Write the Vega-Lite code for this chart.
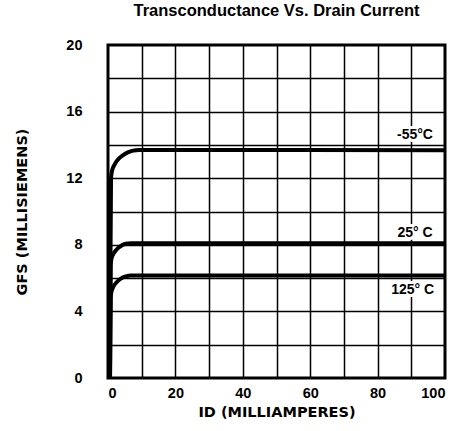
{
  "$schema": "https://vega.github.io/schema/vega-lite/v6.json",
  "width": 337,
  "height": 333,
  "autosize": {"type": "none"},
  "padding": {"left": 108, "top": 45, "right": 16, "bottom": 53},
  "background": "white",
  "title": {"text": "Transconductance Vs. Drain Current", "font": "Liberation Sans", "fontSize": 16.5, "fontWeight": "bold", "color": "black", "anchor": "middle", "offset": 18},
  "config": {
    "view": {"stroke": "black", "strokeWidth": 3},
    "axis": {"gridColor": "black", "gridOpacity": 1, "gridWidth": 1.5, "domain": false, "ticks": false, "labelFont": "Liberation Sans", "labelFontWeight": "bold", "labelFontSize": 14.5, "labelColor": "black", "titleFont": "DejaVu Sans", "titleFontWeight": "bold", "titleColor": "black", "titleFontSize": 14.5}
  },
  "resolve": {"axis": {"x": "independent", "y": "independent"}},
  "datasets": {
    "curves": [
      {"id": 0.6, "gfs": 0, "temp": "-55"},
      {"id": 0.7, "gfs": 6, "temp": "-55"},
      {"id": 0.9, "gfs": 12.0, "temp": "-55"},
      {"id": 1.19, "gfs": 12.44, "temp": "-55"},
      {"id": 2.03, "gfs": 12.85, "temp": "-55"},
      {"id": 3.36, "gfs": 13.2, "temp": "-55"},
      {"id": 5.1, "gfs": 13.47, "temp": "-55"},
      {"id": 7.13, "gfs": 13.64, "temp": "-55"},
      {"id": 9.3, "gfs": 13.7, "temp": "-55"},
      {"id": 100, "gfs": 13.68, "temp": "-55"},
      {"id": 0.6, "gfs": 0, "temp": "25"},
      {"id": 0.7, "gfs": 4, "temp": "25"},
      {"id": 0.8, "gfs": 6.8, "temp": "25"},
      {"id": 1.0, "gfs": 7.14, "temp": "25"},
      {"id": 1.6, "gfs": 7.45, "temp": "25"},
      {"id": 2.56, "gfs": 7.72, "temp": "25"},
      {"id": 3.8, "gfs": 7.93, "temp": "25"},
      {"id": 5.25, "gfs": 8.06, "temp": "25"},
      {"id": 6.8, "gfs": 8.1, "temp": "25"},
      {"id": 100, "gfs": 8.1, "temp": "25"},
      {"id": 0.6, "gfs": 0, "temp": "125"},
      {"id": 0.7, "gfs": 3, "temp": "125"},
      {"id": 0.8, "gfs": 4.8, "temp": "125"},
      {"id": 1.0, "gfs": 5.15, "temp": "125"},
      {"id": 1.6, "gfs": 5.48, "temp": "125"},
      {"id": 2.56, "gfs": 5.75, "temp": "125"},
      {"id": 3.8, "gfs": 5.97, "temp": "125"},
      {"id": 5.25, "gfs": 6.1, "temp": "125"},
      {"id": 6.8, "gfs": 6.15, "temp": "125"},
      {"id": 100, "gfs": 6.15, "temp": "125"}
    ],
    "labels": [
      {"id": 91.1, "gfs": 14.6, "text": "-55°C"},
      {"id": 91.1, "gfs": 8.7, "text": "25° C"},
      {"id": 90.4, "gfs": 5.3, "text": "125° C"}
    ]
  },
  "layer": [
    {
      "data": {"name": "labels"},
      "mark": {"type": "text", "font": "Liberation Sans", "fontSize": 14, "fontWeight": "bold", "align": "center", "baseline": "middle"},
      "encoding": {
        "x": {"field": "id", "type": "quantitative", "scale": {"domain": [0, 100], "nice": false},
          "axis": {"orient": "bottom", "title": null, "labels": false, "grid": true, "values": [10,20,30,40,50,60,70,80,90]}},
        "y": {"field": "gfs", "type": "quantitative", "scale": {"domain": [0, 20], "nice": false},
          "axis": {"orient": "left", "title": null, "labels": false, "grid": true, "values": [2,4,6,8,10,12,14,16,18]}},
        "text": {"field": "text"},
        "fill": {"value": "white"},
        "stroke": {"value": "white"},
        "strokeWidth": {"value": 6}
      }
    },
    {
      "data": {"name": "labels"},
      "mark": {"type": "text", "font": "Liberation Sans", "fontSize": 14, "fontWeight": "bold", "color": "black", "align": "center", "baseline": "middle"},
      "encoding": {
        "x": {"field": "id", "type": "quantitative", "axis": null},
        "y": {"field": "gfs", "type": "quantitative", "axis": null},
        "text": {"field": "text"}
      }
    },
    {
      "data": {"name": "curves"},
      "mark": {"type": "line", "color": "black", "strokeWidth": 4, "interpolate": "monotone"},
      "encoding": {
        "x": {"field": "id", "type": "quantitative", "scale": {"domain": [0, 100], "nice": false},
          "axis": {"orient": "bottom", "grid": false, "title": "ID (MILLIAMPERES)", "values": [0,20,40,60,80,100], "labelPadding": 8, "titlePadding": 6}},
        "y": {"field": "gfs", "type": "quantitative", "scale": {"domain": [0, 20], "nice": false},
          "axis": {"orient": "left", "grid": false, "title": "GFS (MILLISIEMENS)", "values": [0,4,8,12,16,20], "labelPadding": 26, "titlePadding": 36}},
        "detail": {"field": "temp"}
      }
    }
  ]
}
